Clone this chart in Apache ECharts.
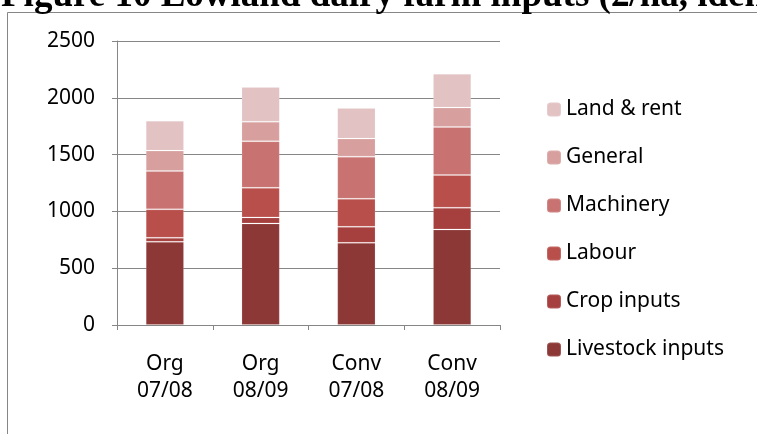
<!DOCTYPE html>
<html>
<head>
<meta charset="utf-8">
<script src="https://cdn.jsdelivr.net/npm/echarts@6/dist/echarts.min.js"></script>
<style>
  body { margin: 0; background: #fff; }
  #chart { width: 757px; height: 434px; }
</style>
</head>
<body>
<div id="chart"></div>
<script>
  var categories = ['Org\n07/08', 'Org\n08/09', 'Conv\n07/08', 'Conv\n08/09'];
  var livestock = [732, 894, 723, 841];
  var crop = [35, 53, 141, 191];
  var labour = [251, 261, 247, 288];
  var machinery = [338, 410, 371, 424];
  var general = [179, 172, 159, 170];
  var land = [262, 304, 270, 297];
  var yTicks = [0, 500, 1000, 1500, 2000, 2500];

  var font = 'Noto Sans';
  var names = ['Livestock inputs', 'Crop inputs', 'Labour', 'Machinery', 'General', 'Land & rent'];
  var colors = ['#8c3836', '#a6403e', '#b94f4b', '#c87371', '#d7a09f', '#e2c2c3'];
  var values = [livestock, crop, labour, machinery, general, land];

  var series = names.map(function (n, i) {
    return {
      name: n,
      type: 'bar',
      stack: 'total',
      barWidth: '40%',
      data: values[i],
      itemStyle: {
        color: colors[i],
        borderColor: 'rgba(255,255,255,0.15)',
        borderWidth: 1
      }
    };
  });

  var myChart = echarts.init(document.getElementById('chart'));
  myChart.setOption({
    animation: false,
    title: {
      text: 'Figure 10 Lowland dairy farm inputs (\u00a3/ha, identical sample)',
      left: -4,
      top: -27,
      textStyle: {
        fontFamily: 'Liberation Serif',
        fontWeight: 'bold',
        fontSize: 37,
        color: '#000'
      }
    },
    graphic: [{
      type: 'rect',
      shape: { x: 7.5, y: 12.5, width: 800, height: 500 },
      style: { fill: 'none', stroke: '#868686', lineWidth: 1 },
      silent: true
    }],
    legend: {
      orient: 'vertical',
      left: 541,
      top: 94,
      itemWidth: 14,
      itemHeight: 14,
      itemGap: 27,
      data: names.slice().reverse(),
      textStyle: { fontFamily: font, fontSize: 21, color: '#000', lineHeight: 21 }
    },
    grid: { left: 117, right: 257, top: 41, bottom: 109 },
    xAxis: {
      type: 'category',
      data: categories,
      axisLine: { lineStyle: { color: '#868686', width: 1 } },
      axisTick: { show: true, length: 5, lineStyle: { color: '#868686' } },
      axisLabel: { fontFamily: font, fontSize: 21, color: '#000', lineHeight: 27, margin: 26 }
    },
    yAxis: {
      type: 'value',
      min: yTicks[0],
      max: yTicks[yTicks.length - 1],
      interval: 500,
      axisLine: { show: true, lineStyle: { color: '#868686', width: 1 } },
      axisTick: { show: true, length: 5, lineStyle: { color: '#868686' } },
      splitLine: { lineStyle: { color: '#868686', width: 1 } },
      axisLabel: {
        fontFamily: font, fontSize: 21, color: '#000', margin: 22,
        formatter: function (v) { return String(v); }
      }
    },
    series: series
  });
</script>
</body>
</html>
